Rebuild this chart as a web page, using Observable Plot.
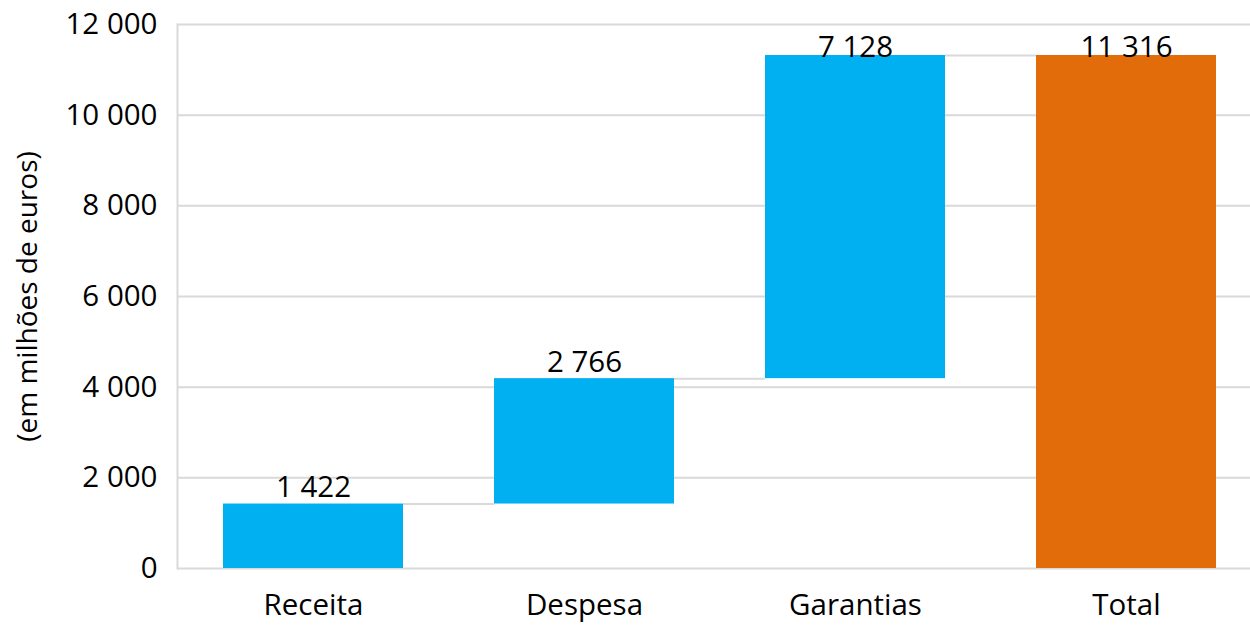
<!DOCTYPE html>
<html>
<head>
<meta charset="utf-8">
<script src="https://cdn.jsdelivr.net/npm/d3@7"></script>
<script src="https://cdn.jsdelivr.net/npm/@observablehq/plot@0.6"></script>
<style>
  html, body { margin: 0; padding: 0; background: #fff; }
  #chart svg { display: block; }
</style>
</head>
<body>
<div id="chart"></div>
<script>
const categories = ["Receita", "Despesa", "Garantias", "Total"];
const values = [1422, 2766, 7128, 11316];
const kinds = ["delta", "delta", "delta", "total"];
const yTicks = [0, 2000, 4000, 6000, 8000, 10000, 12000];
const yTitle = "(em milhões de euros)";

const fmt = d => d3.format(",")(d).replace(/,/g, " ");

let acc = 0;
const rows = categories.map((c, i) => {
  let start, end;
  if (kinds[i] === "total") { start = 0; end = values[i]; acc = values[i]; }
  else { start = acc; end = acc + values[i]; acc = end; }
  return { cat: c, start, end, value: values[i], kind: kinds[i], label: fmt(values[i]) };
});
const connectors = rows.slice(0, -1).map((r, i) => ({ from: r.cat, to: rows[i + 1].cat, y: r.end }));

const xRange = [176.5, 1262];
const pad = 0.337;
const bw = (xRange[1] - xRange[0]) / categories.length * (1 - pad);

const lowLabels = rows.filter(r => r.end < 11000);
const highLabels = rows.filter(r => r.end >= 11000);
const fs = 29.5;

const chart = Plot.plot({
  width: 1250,
  height: 626,
  marginLeft: 177,
  marginRight: 0,
  marginTop: 24,
  marginBottom: 58,
  style: { fontFamily: "'Open Sans', 'Noto Sans', sans-serif", fontSize: fs + "px", color: "#000", background: "#fff" },
  x: { domain: categories, range: xRange, paddingInner: pad, paddingOuter: pad / 2 },
  y: { domain: [0, 12000] },
  marks: [
    Plot.gridY(yTicks, { stroke: "#d9d9d9", strokeOpacity: 1, strokeWidth: 2 }),
    Plot.frame({ anchor: "left", stroke: "#d9d9d9", strokeWidth: 2 }),
    Plot.ruleY(connectors, { x1: "from", x2: "to", y: "y", stroke: "#d9d9d9", strokeWidth: 2, insetLeft: bw, insetRight: bw }),
    Plot.barY(rows, { x: "cat", y1: "start", y2: "end", fill: d => d.kind === "total" ? "#e36c0a" : "#00b0f0" }),
    Plot.text(lowLabels, { x: "cat", y: "end", text: "label", lineAnchor: "bottom", dy: -7, fill: "#000", fontSize: fs }),
    Plot.text(highLabels, { x: "cat", y: "end", text: "label", lineAnchor: "bottom", dy: 1, fill: "#000", fontSize: fs }),
    Plot.axisY({ ticks: yTicks, tickFormat: fmt, tickSize: 0, tickPadding: 20, label: yTitle, labelAnchor: "center", labelArrow: "none", labelOffset: 160, fontSize: fs }),
    Plot.axisX({ tickSize: 0, tickPadding: 26, label: null, fontSize: fs })
  ]
});
document.getElementById("chart").appendChild(chart);
chart.querySelectorAll("[aria-label='y-axis label'] text").forEach(t => t.setAttribute("font-size", "28"));
</script>
</body>
</html>
